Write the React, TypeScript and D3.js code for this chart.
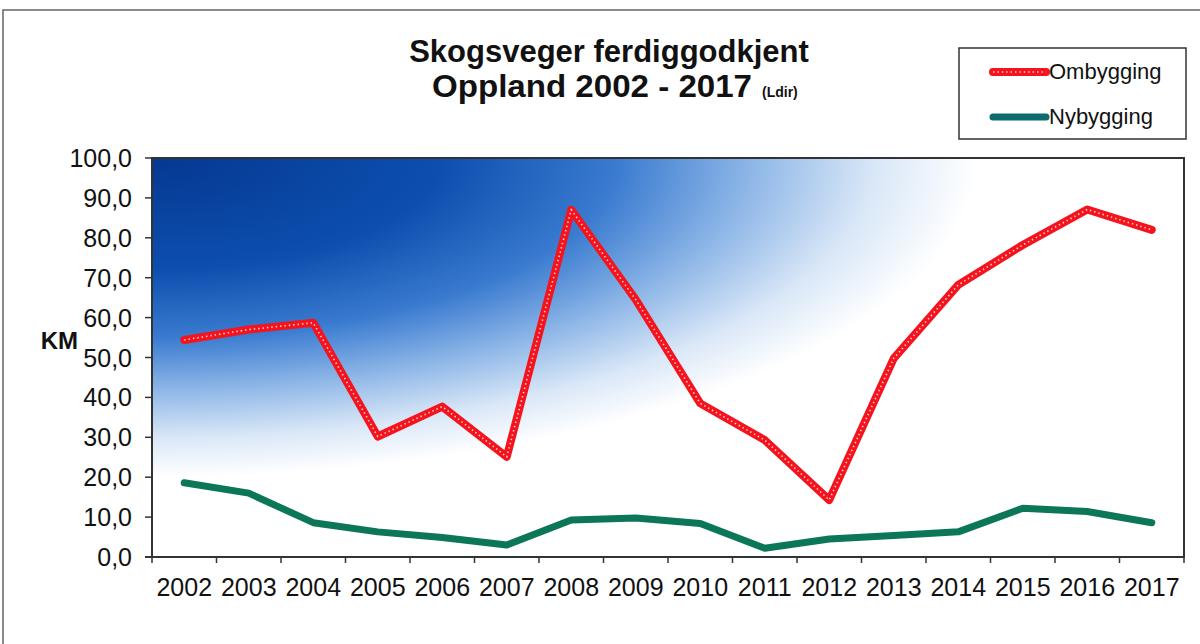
import React from "react";
import * as d3 from "d3";

const years = ["2002", "2003", "2004", "2005", "2006", "2007", "2008", "2009", "2010", "2011", "2012", "2013", "2014", "2015", "2016", "2017"];
const ombygging = [54.4, 57.0, 58.7, 30.2, 37.7, 25.1, 87.0, 64.5, 38.5, 29.3, 14.3, 49.8, 68.2, 78.2, 87.1, 82.0];
const nybygging = [18.6, 16.0, 8.6, 6.3, 4.9, 3.0, 9.3, 9.8, 8.4, 2.2, 4.5, 5.4, 6.3, 12.2, 11.4, 8.6];
const yTicks = [0, 10, 20, 30, 40, 50, 60, 70, 80, 90, 100];
const seriesNames = ["Ombygging", "Nybygging"];

const W = 1200;
const H = 644;
const plot = { left: 152, right: 1184, top: 158, bottom: 557 };
const font = "'Liberation Sans', Arial, Helvetica, sans-serif";

const App: React.FC = () => {
  const x = d3.scaleBand<string>().domain(years).range([plot.left, plot.right]).padding(0);
  const y = d3.scaleLinear().domain([0, 100]).range([plot.bottom, plot.top]);
  const cx = (yr: string) => (x(yr) as number) + x.bandwidth() / 2;
  const fmt = (v: number) => d3.format(".1f")(v).replace(".", ",");

  const line = d3
    .line<number>()
    .x((_, i) => cx(years[i]))
    .y((d) => y(d));

  const boundaries = [...years.map((yr) => x(yr) as number), plot.right];

  return (
    <svg width={W} height={H} style={{ position: "absolute", left: 0, top: 0, background: "#fff" }}>
      <defs>
        <radialGradient id="bg" cx="0" cy="0" r="1" fx="0" fy="0">
          <stop offset="0" stopColor="#053892" />
          <stop offset="0.28" stopColor="#0c4fae" />
          <stop offset="0.45" stopColor="#3a7bd0" />
          <stop offset="0.58" stopColor="#8db6e7" />
          <stop offset="0.7" stopColor="#d9e7f7" />
          <stop offset="0.8" stopColor="#ffffff" />
        </radialGradient>
      </defs>

      {/* outer frame */}
      <path d={`M3,${H} V10 H${W}`} fill="none" stroke="#666" strokeWidth={1.5} />

      {/* title */}
      <text x={609} y={62} textAnchor="middle" fontFamily={font} fontWeight="bold" fontSize={31} fill="#111">
        Skogsveger ferdiggodkjent
      </text>
      <text x={432} y={97} textLength={320} lengthAdjust="spacingAndGlyphs" fontFamily={font} fontWeight="bold" fontSize={31} fill="#111">
        Oppland 2002 - 2017
      </text>
      <text x={762} y={97} fontFamily={font} fontWeight="bold" fontSize={14} fill="#111">
        (Ldir)
      </text>

      {/* plot background */}
      <rect
        x={plot.left}
        y={plot.top}
        width={plot.right - plot.left}
        height={plot.bottom - plot.top}
        fill="url(#bg)"
        stroke="#333"
        strokeWidth={2}
      />

      {/* y axis */}
      {yTicks.map((t) => (
        <g key={t}>
          <line x1={plot.left - 7} x2={plot.left} y1={y(t)} y2={y(t)} stroke="#333" strokeWidth={1.5} />
          <text x={132} y={y(t)} dy="0.36em" textAnchor="end" fontFamily={font} fontSize={25} fill="#111">
            {fmt(t)}
          </text>
        </g>
      ))}
      <text x={78} y={349} textAnchor="end" fontFamily={font} fontWeight="bold" fontSize={24} fill="#111">
        KM
      </text>

      {/* x axis */}
      <line x1={plot.left - 7} x2={plot.right} y1={plot.bottom} y2={plot.bottom} stroke="#333" strokeWidth={2} />
      {boundaries.map((b, i) => (
        <line key={i} x1={b} x2={b} y1={plot.bottom} y2={plot.bottom + 6} stroke="#333" strokeWidth={1.5} />
      ))}
      {years.map((yr) => (
        <text key={yr} x={cx(yr)} y={596} textAnchor="middle" fontFamily={font} fontSize={25} fill="#111">
          {yr}
        </text>
      ))}

      {/* series */}
      <path d={line(nybygging) || ""} fill="none" stroke="#0c7658" strokeWidth={7} strokeLinejoin="round" strokeLinecap="round" />
      <path d={line(ombygging) || ""} fill="none" stroke="#f5141e" strokeWidth={8} strokeLinejoin="round" strokeLinecap="round" />
      <path d={line(ombygging) || ""} fill="none" stroke="#ffd6d6" strokeWidth={1.6} strokeDasharray="1.4 3" />

      {/* legend */}
      <rect x={959} y={48} width={227} height={91} fill="#fff" stroke="#333" strokeWidth={1.5} />
      <line x1={993} x2={1046} y1={72} y2={72} stroke="#f5141e" strokeWidth={8} strokeLinecap="round" />
      <line x1={993} x2={1046} y1={72} y2={72} stroke="#ffd6d6" strokeWidth={1.6} strokeDasharray="1.4 3" />
      <text x={1049} y={79} fontFamily={font} fontSize={22} fill="#111">
        {seriesNames[0]}
      </text>
      <line x1={993} x2={1046} y1={117} y2={117} stroke="#0c6b6c" strokeWidth={7} strokeLinecap="round" />
      <text x={1049} y={124} fontFamily={font} fontSize={22} fill="#111">
        {seriesNames[1]}
      </text>
    </svg>
  );
};

export default App;
